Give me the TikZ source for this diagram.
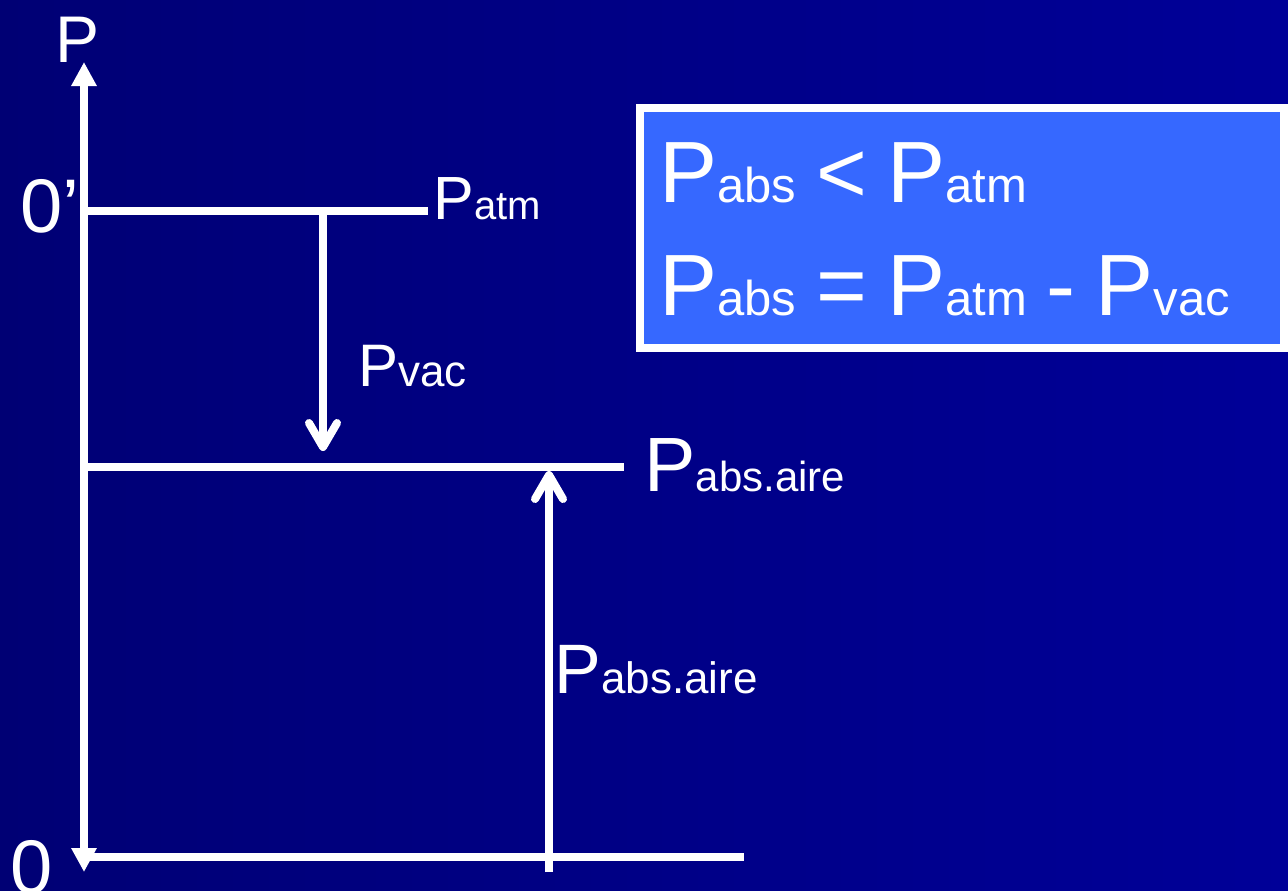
\documentclass[tikz,border=0pt]{standalone}
\usepackage{fontspec}
\setmainfont{Liberation Sans}
\usetikzlibrary{arrows.meta}
\definecolor{slNavy}{RGB}{0,0,116}
\definecolor{slBlue}{RGB}{0,0,152}
\definecolor{slBox}{RGB}{54,104,255}

% P with a small index set on the same baseline
\newcommand{\Plab}[3]{{\fontsize{#1}{#1}\selectfont P{\fontsize{#2}{#2}\selectfont #3}}}
% large type for the relations, with tighter word spaces
\newcommand{\eqfont}{\fontsize{43.5}{43.5}\selectfont\spaceskip=10pt\relax}

\begin{document}
\begin{tikzpicture}[x=0.5pt,y=-0.5pt,
  ax/.style={draw=white,line width=4pt},
  axtip/.style={{Triangle[length=12pt,width=12pt]}-{Triangle[length=12pt,width=12pt]}},
  barb/.style={-{Straight Barb[length=12pt,width=14pt,line cap=round,line join=round]}},
  lbl/.style={text=white,inner sep=0pt,anchor=base west},
  eq/.style={lbl,font=\eqfont}]

\shade[left color=slNavy,right color=slBlue] (0,0) rectangle (1288,890);
\useasboundingbox (0,0) rectangle (1288,890);

% pressure axis
\coordinate (top) at (84,62);
\coordinate (bot) at (84,872);
\draw[ax,axtip] (bot) -- (top);

% levels
\coordinate (zeroL) at (84,857);   \coordinate (zeroR) at (744,857);
\coordinate (atmL)  at (84,211);   \coordinate (atmR)  at (428,211);
\coordinate (airL)  at (84,467);   \coordinate (airR)  at (624,467);
\draw[ax] (zeroL) -- (zeroR);
\draw[ax] (atmL) -- (atmR);
\draw[ax] (airL) -- (airR);

% vacuum and absolute pressure
\coordinate (vacS) at (323,211);  \coordinate (vacE) at (323,451);
\coordinate (absS) at (549,872);  \coordinate (absE) at (549,471);
\draw[ax,barb] (vacS) -- (vacE);
\draw[ax,barb] (absS) -- (absE);

\node[lbl] (lP)   at (55,62)  {\fontsize{33}{33}\selectfont P};
\node[lbl] (lOp)  at (20,232) {\fontsize{38}{38}\selectfont 0’};
\node[lbl] (lO)   at (10,893) {\fontsize{38}{38}\selectfont 0};
\node[lbl] (lPatm) at (433,219) {\Plab{30.5}{20}{atm}};
\node[lbl] (lPvac) at (358,386) {\Plab{30}{22}{vac}};
\node[lbl] (lPabsR) at (644,491) {\Plab{38.5}{21}{abs.aire}};
\node[lbl] (lPabsL) at (554,693) {\Plab{35}{22}{abs.aire}};

% relations
\node[draw=white,line width=4pt,fill=slBox,minimum width=322pt,
      minimum height=120pt,inner sep=0pt] (box) at (962,228) {};
\node[eq] (eqA) at (659,202)
  {\Plab{43.5}{24.5}{abs} < \Plab{43.5}{24.5}{atm}};
\node[eq] (eqB) at (659,315)
  {\Plab{43.5}{24.5}{abs} = \Plab{43.5}{24.5}{atm} - \Plab{43.5}{24.5}{vac}};
\end{tikzpicture}
\end{document}
